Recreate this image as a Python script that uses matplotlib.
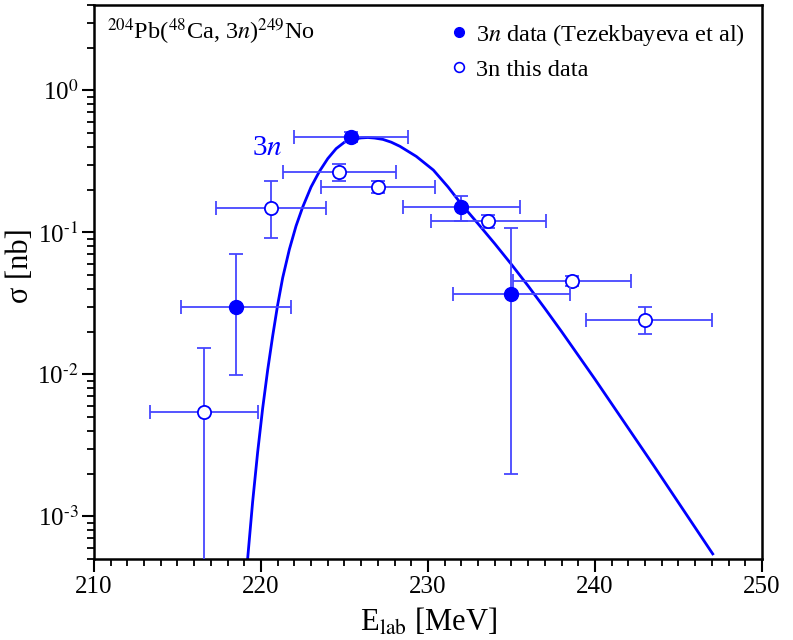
import matplotlib
matplotlib.use("Agg")
import matplotlib.pyplot as plt
import matplotlib.ticker as mticker
import numpy as np

# Tezekbayeva et al (filled)
tez_e = [218.5, 225.4, 232.0, 235.0]
tez_s = [0.030, 0.47, 0.151, 0.037]
tez_elo = [215.2, 222.0, 228.5, 231.5]
tez_ehi = [221.8, 228.8, 235.5, 238.5]
tez_slo = [0.0099, 0.43, 0.121, 0.002]
tez_shi = [0.070, 0.51, 0.179, 0.108]

# this data (open)
this_e = [216.6, 220.6, 224.7, 227.0, 233.6, 238.6, 243.0]
this_s = [0.0054, 0.148, 0.265, 0.21, 0.12, 0.0454, 0.024]
this_elo = [213.35, 217.3, 221.3, 223.6, 230.2, 235.1, 239.45]
this_ehi = [219.85, 223.9, 228.1, 230.4, 237.05, 242.15, 247.0]
this_slo = [1e-4, 0.092, 0.232, 0.19, 0.108, 0.0416, 0.0191]
this_shi = [0.0153, 0.229, 0.303, 0.229, 0.133, 0.049, 0.0298]

# calculated 3n curve
curve_e = [219.2, 219.5, 219.8, 220.1, 220.4, 220.7, 221.0, 221.3, 221.7,
           222.1, 222.5, 223.0, 223.5, 224.0, 224.5, 225.0, 225.5, 226.0,
           226.4, 226.8, 227.3, 227.8, 228.32, 229.3, 230.32, 231.2, 232.0,
           233.0, 234.0, 235.0, 236.0, 237.0, 238.0, 240.0, 243.5, 247.05]
curve_s = [5.0e-4, 1.26e-3, 2.82e-3, 5.75e-3, 1.07e-2, 1.86e-2, 3.09e-2,
           4.79e-2, 7.59e-2, 0.111, 0.151, 0.209, 0.269, 0.331, 0.389, 0.432,
           0.454, 0.463, 0.466, 0.462, 0.452, 0.432, 0.404, 0.343, 0.275,
           0.209, 0.158, 0.115, 0.0832, 0.0594, 0.0419, 0.0291, 0.0200,
           0.00923, 0.00229, 5.43e-4]

plt.rcParams['font.family'] = ['Liberation Serif', 'DejaVu Serif']
plt.rcParams['mathtext.fontset'] = 'stix'

fig = plt.figure(figsize=(7.93, 6.4), dpi=100)
ax = fig.add_axes([0.1185, 0.1266, 0.8424, 0.8656])

ebc = '#4646ff'
tez_e_a = np.array(tez_e)
tez_s_a = np.array(tez_s)
this_e_a = np.array(this_e)
this_s_a = np.array(this_s)

ax.plot(curve_e, curve_s, color='#0000ff', lw=2, zorder=2)

ax.errorbar(this_e_a, this_s_a,
            xerr=[this_e_a - np.array(this_elo), np.array(this_ehi) - this_e_a],
            yerr=[this_s_a - np.array(this_slo), np.array(this_shi) - this_s_a],
            fmt='o', color=ebc, ecolor=ebc, elinewidth=1.3, capsize=5,
            capthick=1.3, mfc='white', mec='#0000ff', ms=9.5, mew=1.3, zorder=3)
ax.errorbar(tez_e_a, tez_s_a,
            xerr=[tez_e_a - np.array(tez_elo), np.array(tez_ehi) - tez_e_a],
            yerr=[tez_s_a - np.array(tez_slo), np.array(tez_shi) - tez_s_a],
            fmt='o', color=ebc, ecolor=ebc, elinewidth=1.3, capsize=5,
            capthick=1.3, mfc='#0000ff', mec='#0000ff', ms=10, zorder=4)

ax.set_yscale('log')
ax.set_xlim(210, 250)
ax.set_ylim(5e-4, 4.0)


def dec_label(v, pos):
    e = int(round(np.log10(v)))
    if e < 0:
        return '10$^{\\text{-}%d}$' % (-e)
    return '10$^{%d}$' % e


ax.xaxis.set_major_locator(mticker.MultipleLocator(10))
ax.xaxis.set_minor_locator(mticker.MultipleLocator(1))
ax.yaxis.set_major_locator(mticker.LogLocator(base=10, numticks=10))
ax.yaxis.set_minor_locator(mticker.LogLocator(base=10, subs=np.arange(2, 10), numticks=20))
ax.yaxis.set_minor_formatter(mticker.NullFormatter())
ax.yaxis.set_major_formatter(mticker.FuncFormatter(dec_label))

ax.tick_params(which='major', direction='out', length=9, width=1.5, labelsize=18)
ax.tick_params(which='minor', direction='out', length=5, width=1.3)
ax.tick_params(axis='y', which='major', pad=2)
ax.tick_params(top=False, right=False, which='both')
for sp in ax.spines.values():
    sp.set_linewidth(1.8)

ax.set_xlabel('E$_{\\mathrm{lab}}$ [MeV]', fontsize=22, labelpad=6)
ax.set_ylabel('σ [nb]', fontsize=22)
ax.yaxis.set_label_coords(-0.088, 0.53)

ax.text(0.019, 0.9386, '$^{204}$Pb($^{48}$Ca, 3$n$)$^{249}$No',
        transform=ax.transAxes, fontsize=17.5, va='baseline', ha='left')
ax.text(219.46, 0.353, '3$n$', color='#0000ff', fontsize=21,
        ha='left', va='baseline')

h1, = ax.plot([], [], 'o', color='#0000ff', ms=7)
h2, = ax.plot([], [], 'o', mfc='white', mec='#0000ff', ms=7, mew=1.2)
ax.legend([h1, h2], ['3$n$ data (Tezekbayeva et al)', '3n this data'],
          loc='upper right', bbox_to_anchor=(1.0, 1.0), frameon=False,
          fontsize=17.5, handlelength=0.6, handletextpad=0.4,
          labelspacing=0.45, borderaxespad=0.3)

fig.savefig('out.png', dpi=100)
